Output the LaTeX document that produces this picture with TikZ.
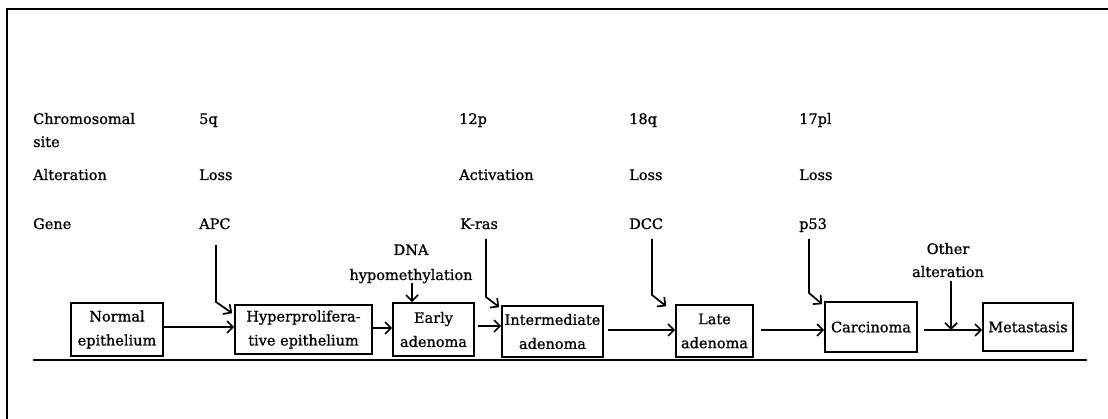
\documentclass[tikz,border=0pt]{standalone}
\usepackage{fontspec}
\setmainfont{DejaVu Serif}[FakeBold=0.9]
\usetikzlibrary{arrows.meta}
\begin{document}
\begin{tikzpicture}[x=1pt,y=-1pt,
  font=\fontsize{14.5}{24}\selectfont,
  box/.style={draw, line width=1.6pt, inner sep=0pt, align=center},
  lbl/.style={anchor=base west, inner sep=0pt},
  clbl/.style={anchor=base, inner sep=0pt},
  arr/.style={line width=1.7pt, -{Straight Barb[length=6pt,width=12pt,line width=1.7pt]}},
  rule/.style={line width=1.5pt}]
\useasboundingbox (0,0) rectangle (1108,419);
% frame
\coordinate (f1) at (7,419);
\coordinate (f2) at (7,9);
\coordinate (f3) at (1108,9);
\draw[rule] (f1) -- (f2) -- (f3);
% row labels
\node[lbl] (chr) at (33,124) {Chromosomal};
\node[lbl] (site) at (33,147) {site};
\node[lbl] (alt) at (33,180) {Alteration};
\node[lbl] (gene) at (33,229) {Gene};
% columns
\node[lbl] (c1) at (199,124) {5q};
\node[lbl] (c2) at (459,124) {12p};
\node[lbl] (c3) at (629,124) {18q};
\node[lbl] (c4) at (799,124) {17pl};
\node[lbl] (a1) at (199,180) {Loss};
\node[lbl] (a2) at (459,180) {Activation};
\node[lbl] (a3) at (629,180) {Loss};
\node[lbl] (a4) at (799,180) {Loss};
\node[lbl] (g1) at (199,229) {APC};
\node[lbl] (g2) at (460,229) {K-ras};
\node[lbl] (g3) at (629,229) {DCC};
\node[lbl] (g4) at (799,229) {p53};
% side labels
\node[clbl] (dna) at (411,255) {DNA};
\node[clbl] (hypo) at (411,280) {hypomethylation};
\node[clbl] (oth) at (948,254) {Other};
\node[clbl] (otha) at (948,277) {alteration};
% boxes
\node[box, minimum width=92pt, minimum height=53pt] (norm) at (117,329.5) {Normal\\epithelium};
\node[box, minimum width=137pt, minimum height=49pt] (hyp) at (303.5,329.5) {Hyperprolifera-\\tive epithelium};
\node[box, minimum width=81pt, minimum height=53pt] (early) at (433.5,329.5) {Early\\adenoma};
\node[box, minimum width=101pt, minimum height=51pt] (inter) at (552.5,331.5) {Intermediate\\adenoma};
\node[box, minimum width=77pt, minimum height=52pt] (late) at (714.5,331) {Late\\adenoma};
\node[box, minimum width=92pt, minimum height=50pt] (carc) at (871,327) {Carcinoma};
\node[box, minimum width=90pt, minimum height=48pt] (meta) at (1028,327) {Metastasis};
% base rule
\coordinate (b1) at (33,360);
\coordinate (b2) at (1087,360);
\draw[rule] (b1) -- (b2);
% horizontal arrows
\draw[arr] (norm.east |- 0,327) -- (hyp.west |- 0,327);
\draw[arr] (hyp.east |- 0,328) -- (early.west |- 0,328);
\draw[arr, shorten <=3pt] (early.east |- 0,326) -- (inter.west |- 0,326);
\draw[arr, shorten <=4pt] (inter.east |- 0,330) -- (late.west |- 0,330);
\draw[arr, shorten <=7pt] (late.east |- 0,330) -- (carc.west |- 0,330);
\draw[arr, shorten <=6pt] (carc.east |- 0,330) -- (meta.west |- 0,330);
% gene arrows
\coordinate (p1) at (216,245); \coordinate (q1) at (216,302);
\draw[arr] (p1) -- (q1) -- ([shift={(-2,9)}]hyp.north west);
\coordinate (p2) at (486,239); \coordinate (q2) at (486,297);
\draw[arr] (p2) -- (q2) -- ([shift={(-2,2)}]inter.north west);
\coordinate (p3) at (652,239); \coordinate (q3) at (652,295);
\draw[arr] (p3) -- (q3) -- ([shift={(-9,2)}]late.north west);
\coordinate (p4) at (809,239); \coordinate (q4) at (809,293);
\draw[arr] (p4) -- (q4) -- ([shift={(-2,3)}]carc.north west);
% DNA / other arrows
\draw[arr] (hypo.south -| 412,0) -- (early.north -| 412,0);
\coordinate (oe) at (951,330);
\draw[arr] (otha.south -| 951,0) ++(0,4) -- (oe);
\end{tikzpicture}
\end{document}
